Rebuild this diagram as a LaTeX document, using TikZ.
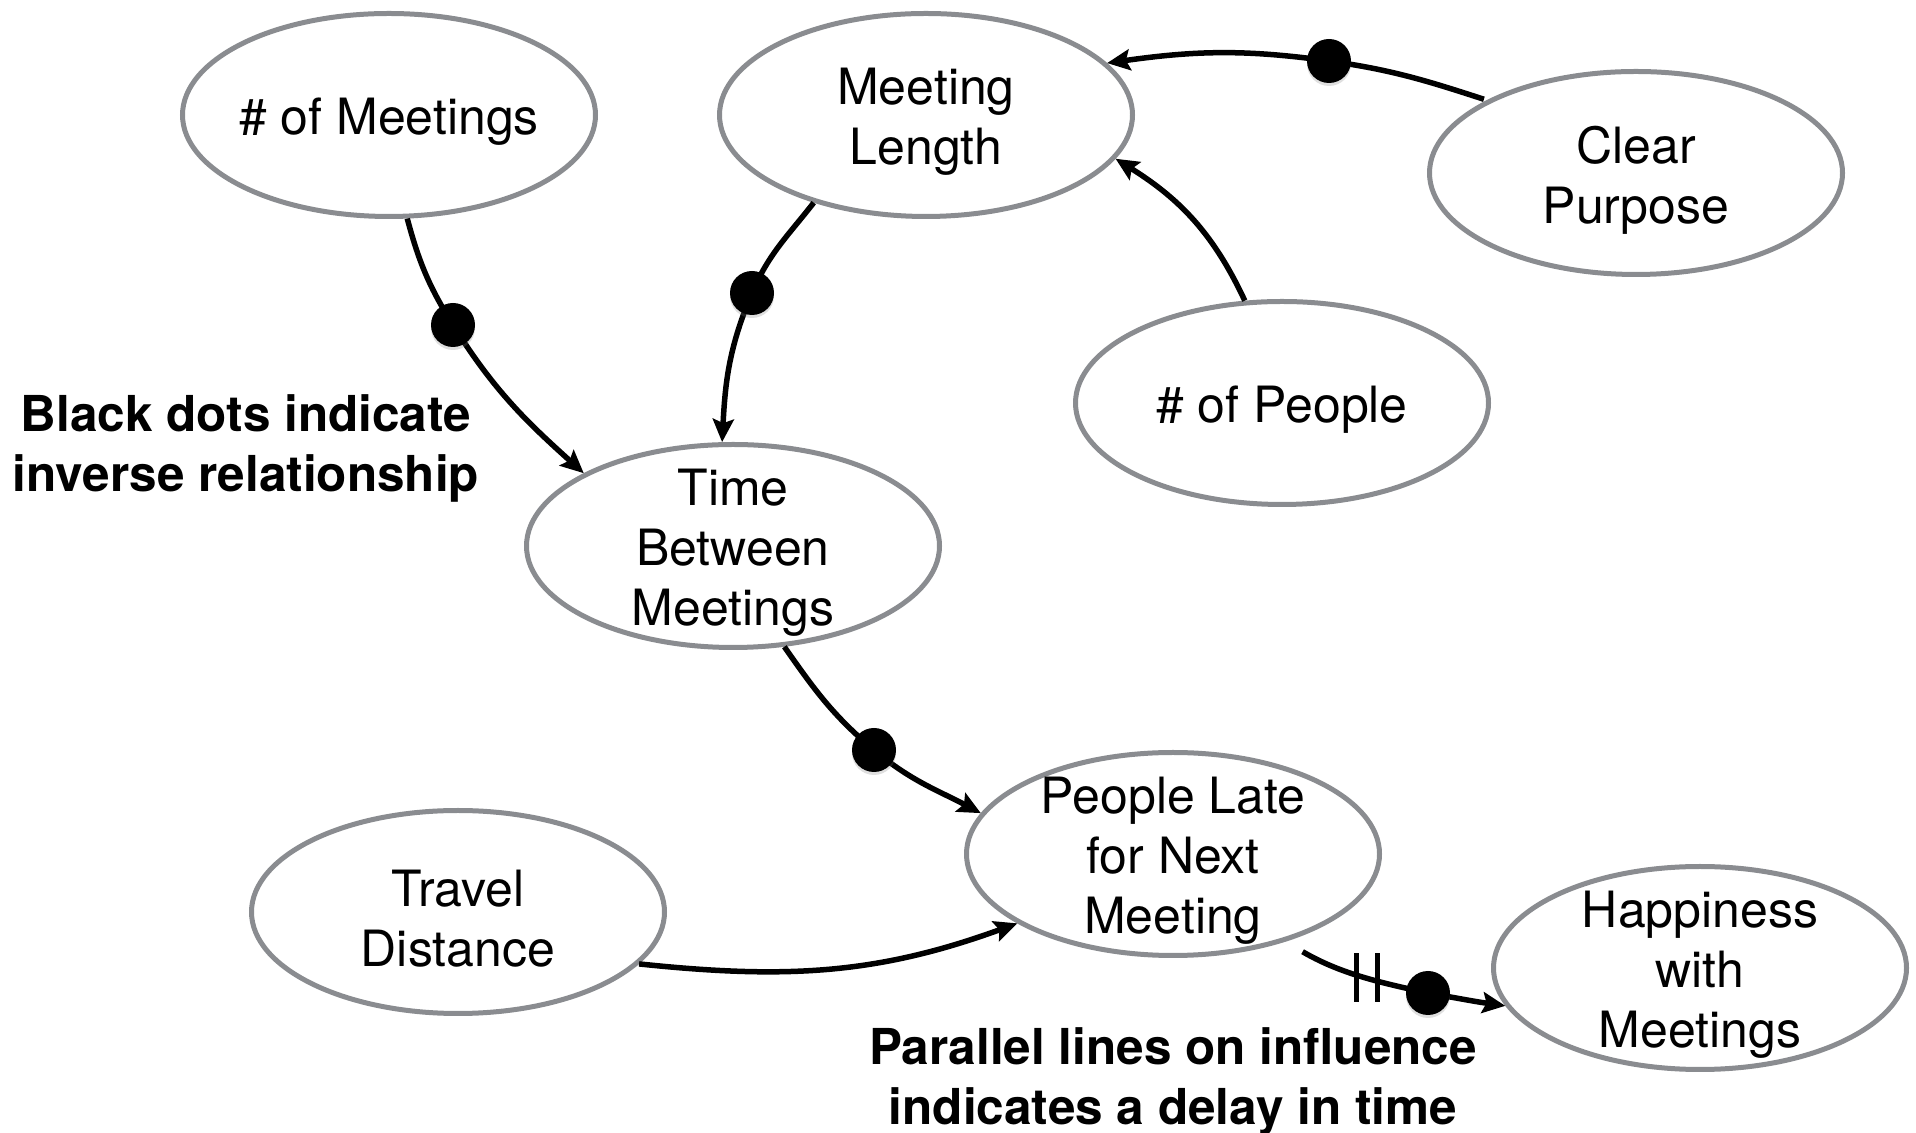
\documentclass[tikz,border=0pt]{standalone}
\usepackage{fontspec}
\setmainfont{TeX Gyre Heros}
\usetikzlibrary{shapes.geometric,arrows.meta,shadows}
\definecolor{rim}{HTML}{8A8C90}
\begin{document}
\begin{tikzpicture}[x=1pt,y=1pt,
  var/.style={ellipse, draw=rim, line width=5pt, minimum width=413pt,
    minimum height=203pt, inner sep=0pt},
  vtext/.style={align=center, yshift=-7pt, font=\fontsize{50}{60}\selectfont},
  note/.style={align=center, font=\bfseries\fontsize{49.5}{60}\selectfont},
  link/.style={line width=5.5pt, -{Stealth[length=23pt,width=21pt,inset=4pt]}},
  inverse/.style={circle, fill=black, minimum size=44pt, inner sep=0pt,
    drop shadow={shadow xshift=0pt, shadow yshift=-3pt, opacity=0.25}},
  delaymark/.style={line width=5pt}]
\useasboundingbox (0,0) rectangle (1916,1132);

% variables
\node[var] (nm) at (389,1017) {};
\node[var] (ml) at (926,1017) {};
\node[var] (cp) at (1636,959) {};
\node[var] (np) at (1282,729) {};
\node[var] (tb) at (733,586) {};
\node[var] (pl) at (1173,278) {};
\node[var] (td) at (458,220) {};
\node[var] (hm) at (1700,164) {};

\node[vtext] (nmt) at (nm) {\# of Meetings};
\node[vtext] (mlt) at (ml) {Meeting\\Length};
\node[vtext] (cpt) at (cp) {Clear\\Purpose};
\node[vtext] (npt) at (np) {\# of People};
\node[vtext] (tbt) at (tb) {Time\\Between\\Meetings};
\node[vtext] (plt) at (pl) {People Late\\for Next\\Meeting};
\node[vtext] (tdt) at (td) {Travel\\Distance};
\node[vtext] (hmt) at (hm) {Happiness\\with\\Meetings};

% inverse-relationship markers
\coordinate (d1) at (453,807);
\coordinate (d2) at (752,839);
\coordinate (d3) at (1329,1071);
\coordinate (d4) at (874,382);
\coordinate (d5) at (1428,139);

% influences
\draw[link] (nm.-80) to[out=-75,in=122] (d1) to[out=-58,in=138] (tb.154);
\draw[link] (ml.-142) to[out=-128,in=67] (d2) to[out=-113,in=87] (tb.96);
\draw[link, shorten <=3pt] (cp.154) to[out=162,in=-8] (d3) to[out=172,in=8] (ml.16);
\draw[link] (np.110) to[out=115,in=-32] (ml.-13);
\draw[link] (tb.-63) to[out=-55,in=140] (d4) to[out=-40,in=152] (pl.168);
\draw[link] (td.-16) to[out=-6,in=-160] (pl.-156);
\draw[link, shorten <=20pt] (pl.-38) to[out=-30,in=168] (d5) to[out=-10,in=172] (hm.-169);

% delay mark
\draw[delaymark] (1356,130) -- (1356,179);
\draw[delaymark] (1377,130) -- (1377,179);

\node[inverse] (m1) at (d1) {};
\node[inverse] (m2) at (d2) {};
\node[inverse] (m3) at (d3) {};
\node[inverse] (m4) at (d4) {};
\node[inverse] (m5) at (d5) {};

% legend notes
\node[note] (n1) at (246,684) {Black dots indicate\\inverse relationship};
\node[note] (n2) at (1173,51) {Parallel lines on influence\\indicates a delay in time};
\end{tikzpicture}
\end{document}
